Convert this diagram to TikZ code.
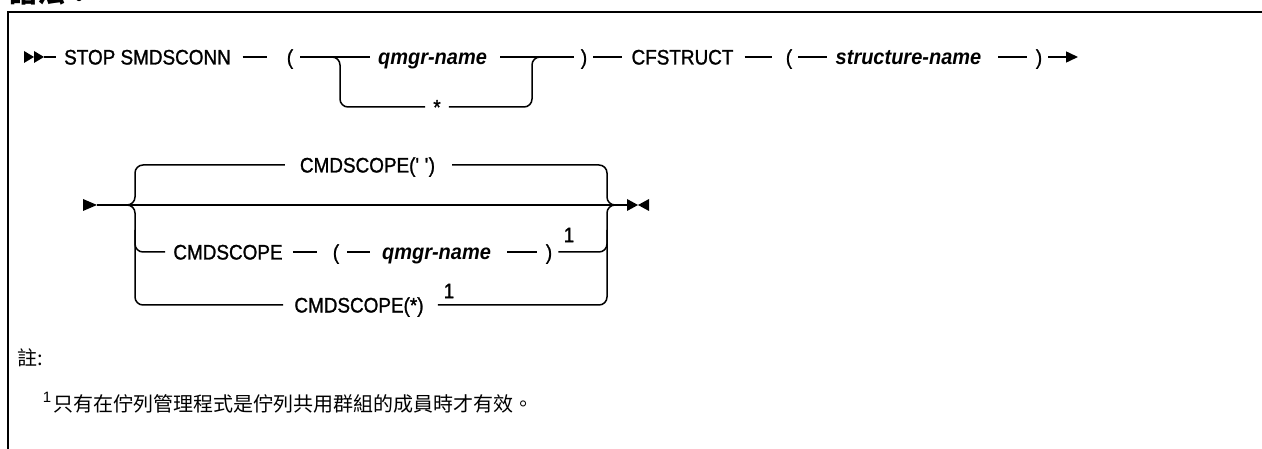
\documentclass[tikz,border=0pt]{standalone}
\usepackage{fontspec}
\setmainfont{Liberation Sans}
\newfontfamily\kwf[FakeBold=1.2,FakeStretch=0.9]{Liberation Sans}
\newfontfamily\varf[FakeStretch=0.93]{Liberation Sans}
\newfontfamily\cjk{Noto Sans CJK TC}
\usetikzlibrary{arrows.meta}
\begin{document}
\begin{tikzpicture}[x=1pt,y=-1pt,
  ln/.style={line width=1.5pt},
  rr/.style={line width=1.5pt, rounded corners=8pt},
  kw/.style={inner sep=0pt, text height=15pt, text depth=0pt, font=\kwf\fontsize{21}{24}\selectfont},
  var/.style={kw, font=\varf\fontsize{21.5}{24}\selectfont\bfseries\itshape},
  fn/.style={inner sep=0pt, font=\kwf\fontsize{21}{22}\selectfont},
  cjktext/.style={inner sep=0pt, anchor=west, font=\cjk\fontsize{20}{24}\selectfont}]
\useasboundingbox (0,0) rectangle (1262,449);
% cropped title and frame
\node[anchor=base west, inner sep=0pt, font=\cjk\bfseries\fontsize{28}{30}\selectfont] (title) at (9,3) {語法：};
\draw[line width=2.4pt] (1270,12) -- (8,12) -- (8,460);

% ---------- row 1 ----------
\coordinate (s1) at (44,57);
\fill (24,51) -- (34,57) -- (24,63) -- cycle;
\fill (34,51) -- (44,57) -- (34,63) -- cycle;
\node[kw] (stop) at (147.5,57) {STOP SMDSCONN};
\node[kw] (lp1) at (290,57) {(};
\node[var] (q1) at (432.5,57) {qmgr-name};
\node[kw] (star) at (437,107) {*};
\node[kw] (rp1) at (584,57) {)};
\node[kw] (cf) at (682.5,57) {CFSTRUCT};
\node[kw] (lp2) at (789,57) {(};
\node[var] (sn) at (908.5,57) {structure-name};
\node[kw] (rp2) at (1039,57) {)};
\coordinate (e1) at (1078,57);

\draw[ln] (s1) -- ([xshift=-8]stop.west);
\draw[ln] ([xshift=11.5]stop.east) -- ([xshift=-20]lp1.west);
\draw[ln] ([xshift=7]lp1.east) -- ([xshift=-8]q1.west);
\draw[rr] ([xshift=30]lp1.east) -| (340,107) -- ([xshift=-8]star.west);
\draw[ln] ([xshift=13]q1.east) -- ([xshift=-7]rp1.west);
\draw[rr] ([xshift=8]star.east) -| (532,57) -- ([xshift=-20]rp1.west);
\draw[ln] ([xshift=6]rp1.east) -- ([xshift=-9]cf.west);
\draw[ln] ([xshift=11]cf.east) -- ([xshift=-14]lp2.west);
\draw[ln] ([xshift=6]lp2.east) -- ([xshift=-9]sn.west);
\draw[ln] ([xshift=17]sn.east) -- ([xshift=-9]rp2.west);
\draw[ln,-{Triangle[length=12pt,width=11pt]}] ([xshift=6]rp2.east) -- (e1);

% ---------- row 2 ----------
\coordinate (s2) at (97,205);
\fill (83,199) -- (97,205) -- (83,211) -- cycle;
\coordinate (e2) at (627,205);
\fill (627,199) -- (638,205) -- (627,211) -- cycle;
\fill (649,199) -- (638,205) -- (649,211) -- cycle;
\draw[ln] (s2) -- (e2);

\node[kw] (t1) at (367.5,165) {CMDSCOPE(\textquotesingle\ \textquotesingle)};
\node[kw] (b2k) at (228,252) {CMDSCOPE};
\node[kw] (lp3) at (336,252) {(};
\node[var] (q2) at (436.5,252) {qmgr-name};
\node[kw] (rp3) at (549,252) {)};
\node[fn] (f1) at (569,235) {1};
\node[kw] (b3) at (359,305) {CMDSCOPE(*)};
\node[fn] (f2) at (449,291) {1};

\draw[rr] ([xshift=25]s2) -| (135,165) -- ([xshift=-15]t1.west);
\draw[rr] ([xshift=17]t1.east) -| (607,205) -- ([xshift=-7]e2);
\draw[rr] ([xshift=25]s2) -| (135,305) -- ([xshift=-11]b3.west);
\draw[rr] ([xshift=14]b3.east) -| (607,205) -- ([xshift=-7]e2);
\draw[rr] (135,230) |- ([xshift=-8]b2k.west);
\draw[ln] ([xshift=10]b2k.east) -- ([xshift=-16]lp3.west);
\draw[ln] ([xshift=8]lp3.east) -- ([xshift=-12]q2.west);
\draw[ln] ([xshift=16]q2.east) -- ([xshift=-9]rp3.west);
\draw[rr] ([xshift=6]rp3.east) -| (607,230);

% ---------- notes ----------
\node[cjktext] (note) at (17,358) {註:};
\node[inner sep=0pt, font=\fontsize{15}{16}\selectfont] (n1) at (47,397) {1};
\node[cjktext] (ntext) at (53,404) {只有在佇列管理程式是佇列共用群組的成員時才有效。};
\end{tikzpicture}
\end{document}
